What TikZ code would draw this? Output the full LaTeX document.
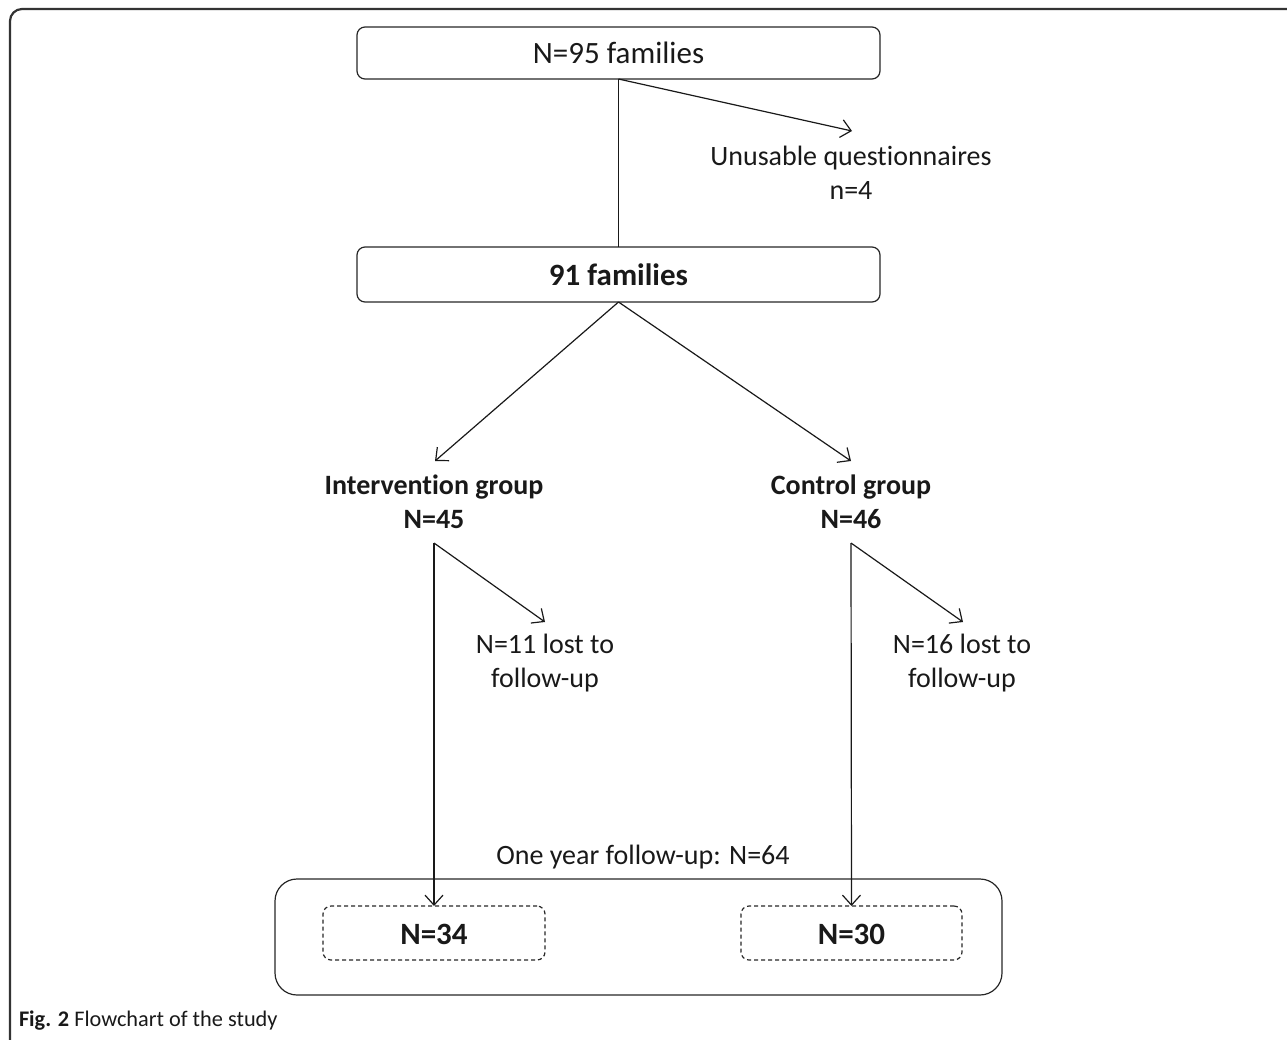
\documentclass[tikz,border=0pt]{standalone}
\usepackage{fontspec}
\setmainfont{Carlito}[RawFeature=-liga]
\usetikzlibrary{arrows.meta}
\begin{document}
\begin{tikzpicture}[x=1pt,y=-1pt,
  every node/.style={inner sep=0pt,outer sep=0pt,text=black!90},
  txt/.style={font=\fontsize{28}{34}\selectfont,align=center},
  btxt/.style={font=\fontsize{28}{34}\selectfont\bfseries,align=center},
  bigtxt/.style={font=\fontsize{31}{34}\selectfont,align=center},
  bigbtxt/.style={font=\fontsize{31}{34}\selectfont\bfseries,align=center},
  solidbox/.style={draw=black!85,line width=1.2pt,rounded corners=8pt},
  dashbox/.style={draw=black!85,line width=1.2pt,rounded corners=8pt,dash pattern=on 4pt off 3pt},
  conn/.style={draw=black!90,line width=1.2pt},
  arr/.style={conn,-{Straight Barb[length=10pt,width=18pt,line width=1.2pt]}}]
\useasboundingbox (0,0) rectangle (1287,1039);
\begin{scope}
\clip (0,0) rectangle (1287,1039);
\draw[draw=black!80,line width=2.2pt,rounded corners=12pt] (10,9) rectangle (1320,1070);
\end{scope}
% boxes
\node[solidbox,minimum width=523pt,minimum height=52pt] (b1) at (618.5,53) {};
\node[bigtxt] (t1) at (618.5,53) {N=95 families};
\node[solidbox,minimum width=523pt,minimum height=55pt] (b2) at (618.5,274.5) {};
\node[bigbtxt] (t2) at (618.5,275) {91 families};
\draw[conn] (b1.south) -- (b2.north);
\coordinate (u1) at (852,131);
\draw[arr] (b1.south) -- (u1);
\node[txt] (unus) at (851,173) {Unusable questionnaires\\n=4};
% groups
\coordinate (ga) at (435,461);
\coordinate (gb) at (851,461);
\draw[arr] (b2.south) -- (ga);
\draw[arr] (b2.south) -- (gb);
\node[btxt] (ig) at (434,502) {Intervention group\\N=45};
\node[btxt] (cg) at (851,502) {Control group\\N=46};
\coordinate (iv) at (434,543);
\coordinate (cv) at (851,543);
\coordinate (il) at (545,622);
\coordinate (cl) at (963,622);
\draw[arr] (iv) -- (il);
\draw[arr] (cv) -- (cl);
\node[txt] (lost1) at (545,663) {N=11 lost to\\follow-up};
\node[txt] (lost2) at (962,663) {N=16 lost to\\follow-up};
% bottom
\node[txt] (fu) at (643,857) {One year follow-up: N=64};
\node[solidbox,rounded corners=22pt,minimum width=727pt,minimum height=116pt] (big) at (638.5,937) {};
\node[dashbox,minimum width=222pt,minimum height=54pt] (d1) at (434,933) {};
\node[bigbtxt] (n1) at (434,934) {N=34};
\node[dashbox,minimum width=221pt,minimum height=54pt] (d2) at (851.5,933) {};
\node[bigbtxt] (n2) at (851.5,934) {N=30};
\draw[arr] (iv) -- (d1.north);
\draw[arr] (cv) -- (d2.north);
% caption
\node[anchor=west,font=\fontsize{22.3}{26}\selectfont] (cap) at (19,1021) {\textbf{Fig. 2} Flowchart of the study};
\end{tikzpicture}
\end{document}
